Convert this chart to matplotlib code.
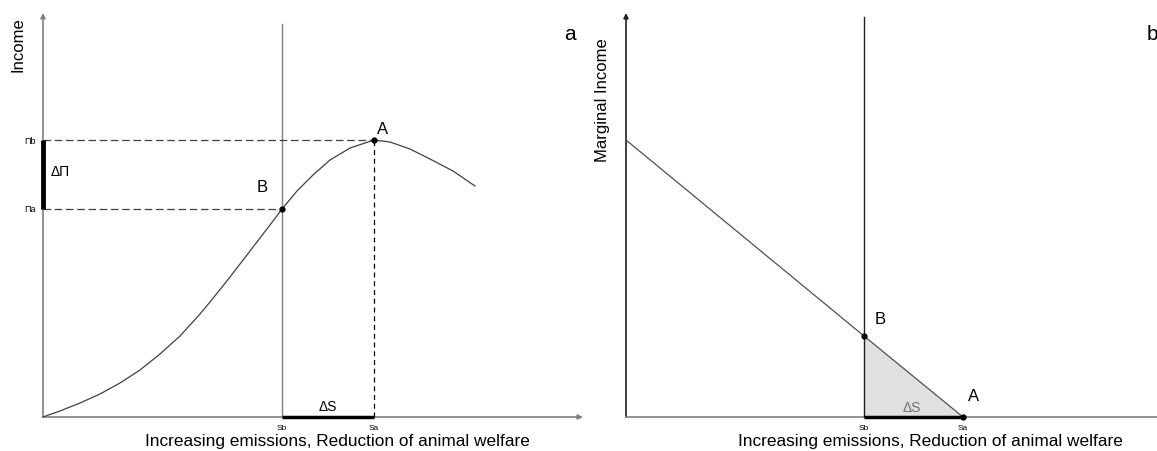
import matplotlib.pyplot as plt

plt.rcParams["font.family"] = ["Liberation Sans", "DejaVu Sans"]

# panel a: income curve (units ~ pixels from origin)
curve_x = [0, 17, 37, 57, 77, 97, 117, 137, 157, 167, 187, 207, 227, 239,
           254, 270, 287, 307, 331, 347, 367, 387, 410, 432]
curve_y = [0, 6, 14, 23, 34, 47, 63, 81, 103, 115, 140, 166, 192, 208,
           226, 242, 257, 269, 277, 275, 268, 258, 246, 231]
sb_a, sa_a = 239, 331
pi_b, pi_a = 277, 208

# panel b: marginal income line
mi_x = [0, 238, 337]
mi_y = [277, 81, 0]
sb_b, sa_b = 238, 337

xlabel = "Increasing emissions, Reduction of animal welfare"
axis_col = "#808080"
curve_col = "#404040"
arrow = dict(arrowstyle="-|>", lw=1.2, mutation_scale=7, shrinkA=0, shrinkB=0)

fig = plt.figure(figsize=(11.57, 4.52), dpi=100)

# ---------------- panel a ----------------
ax = fig.add_axes([0, 0, 580 / 1157, 1])
ax.set_xlim(-43, 537)
ax.set_ylim(-34, 418)
ax.axis("off")

ax.annotate("", xy=(0, 404), xytext=(0, 0), annotation_clip=False,
            arrowprops=dict(arrow, color=axis_col), zorder=1)
ax.annotate("", xy=(540, 0), xytext=(0, 0), annotation_clip=False,
            arrowprops=dict(arrow, color=axis_col), zorder=1)

ax.plot(curve_x, curve_y, color=curve_col, lw=0.9)
ax.plot([sb_a, sb_a], [0, 393], color=axis_col, lw=1.0)
ax.plot([sa_a, sa_a], [0, pi_b], color="black", lw=0.9, ls=(0, (4, 3)))
ax.plot([0, sa_a], [pi_b, pi_b], color="#404040", lw=0.9, ls=(0, (6, 3)))
ax.plot([0, sb_a], [pi_a, pi_a], color="#404040", lw=0.9, ls=(0, (6, 3)))
ax.plot([0, 0], [pi_a, pi_b], color="black", lw=3.5, solid_capstyle="butt", zorder=4)
ax.plot([sb_a, sa_a], [0, 0], color="black", lw=2.5, solid_capstyle="butt", zorder=4)
ax.plot([sb_a, sa_a], [pi_a, pi_b], "o", color="black", ms=3.5, zorder=5)

ax.text(-13, pi_b, "Πb", fontsize=6.5, ha="center", va="center")
ax.text(-13, pi_a, "Πa", fontsize=6.5, ha="center", va="center")
ax.text(8, 246, "ΔΠ", fontsize=10, ha="left", va="center")
ax.text((sb_a + sa_a) / 2, 11, "ΔS", fontsize=10, ha="center", va="center")
ax.text(sb_a, -11, "Sb", fontsize=6, ha="center", va="center")
ax.text(sa_a, -11, "Sa", fontsize=6, ha="center", va="center")
ax.text(340, 288, "A", fontsize=12, ha="center", va="center")
ax.text(219, 230, "B", fontsize=12, ha="center", va="center")
ax.text(527, 383, "a", fontsize=15, ha="center", va="center")
ax.text(-25, 373, "Income", fontsize=12, rotation=90, ha="center", va="center")
ax.text(294, -24, xlabel, fontsize=12.4, ha="center", va="center")

# ---------------- panel b ----------------
bx = fig.add_axes([580 / 1157, 0, 577 / 1157, 1])
bx.set_xlim(-46, 531)
bx.set_ylim(-34, 418)
bx.axis("off")

bx.fill_between([sb_b, sa_b], [mi_y[1], 0], [0, 0], color="#e0e0e0", lw=0)
bx.annotate("", xy=(0, 404), xytext=(0, 0), annotation_clip=False,
            arrowprops=dict(arrow, color="#202020"), zorder=1)
bx.plot([0, 540], [0, 0], color=axis_col, lw=1.2, clip_on=False, zorder=1)
bx.plot(mi_x, mi_y, color="#505050", lw=0.9)
bx.plot([sb_b, sb_b], [0, 400], color="#202020", lw=1.0)
bx.plot([sb_b, sa_b], [0, 0], color="black", lw=2.5, solid_capstyle="butt", zorder=4)
bx.plot([sb_b, sa_b], [mi_y[1], 0], "o", color="black", ms=3.5, zorder=5)

bx.text((sb_b + sa_b) / 2 - 2, 10, "ΔS", fontsize=10, color="#707070", ha="center", va="center")
bx.text(sb_b, -11, "Sb", fontsize=6, ha="center", va="center")
bx.text(sa_b, -11, "Sa", fontsize=6, ha="center", va="center")
bx.text(348, 21, "A", fontsize=12, ha="center", va="center")
bx.text(254, 98, "B", fontsize=12, ha="center", va="center")
bx.text(526, 383, "b", fontsize=15, ha="center", va="center", clip_on=False)
bx.text(-23, 318, "Marginal Income", fontsize=12, rotation=90, ha="center", va="center")
bx.text(304, -24, xlabel, fontsize=12.4, ha="center", va="center")

fig.savefig("out.png", dpi=100)
